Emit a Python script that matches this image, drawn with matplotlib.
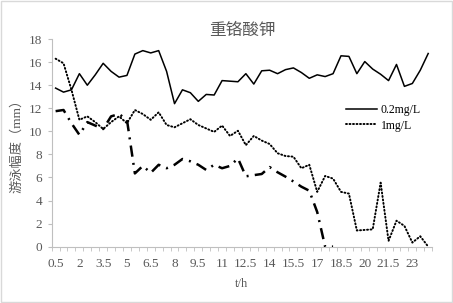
import numpy as np
import matplotlib.pyplot as plt
from matplotlib.patches import Rectangle

# Datos (eje de categorías: t en horas)
t = [0.5, 1, 1.5, 2, 2.5, 3, 3.5, 4, 4.5, 5, 5.5, 6, 6.5, 7, 7.5, 8,
     8.5, 9, 9.5, 10, 10.5, 11, 11.5, 12, 12.5, 13, 13.5, 14, 14.5, 15, 15.5, 16,
     16.5, 17, 17.5, 18, 18.5, 19, 19.5, 20, 20.5, 21, 21.5, 22, 22.5, 23, 23.5, 24]

c02 = [13.75, 13.4, 13.6, 15.0, 14.0, 14.9, 15.9, 15.2, 14.7, 14.85, 16.7, 17.0,
       16.8, 17.0, 15.2, 12.4, 13.6, 13.35, 12.6, 13.2, 13.15, 14.4, 14.35, 14.3,
       15.0, 14.1, 15.25, 15.3, 15.0, 15.35, 15.5, 15.1, 14.6, 14.9, 14.75, 15.0,
       16.55, 16.5, 15.0, 16.05, 15.4, 14.95, 14.4, 15.8, 13.9, 14.15, 15.3, 16.75]

c1 = [16.3, 15.9, 13.6, 11.0, 11.3, 10.8, 10.2, 10.8, 11.3, 10.7, 11.85, 11.5,
      11.0, 11.65, 10.55, 10.35, 10.7, 11.05, 10.55, 10.25, 9.95, 10.5, 9.6, 10.05,
      8.8, 9.6, 9.2, 8.9, 8.1, 7.86, 7.8, 6.8, 7.1, 4.75, 6.13, 5.9,
      4.75, 4.6, 1.4, 1.45, 1.5, 5.55, 0.5, 2.25, 1.8, 0.35, 0.9, 0.0]

c3 = [11.75, 11.85, 10.7, 9.7, 10.8, 10.5, 10.2, 11.3, 11.5, 11.0, 6.35, 7.0,
      6.4, 7.1, 6.8, 7.1, 7.6, 7.4, 7.1, 6.65, 7.1, 6.8, 7.0, 7.65,
      6.1, 6.2, 6.3, 6.9, 6.45, 6.07, 5.65, 5.2, 4.85, 3.0, 0.0, 0.0]

etiquetas = ['0.2mg/L', '1mg/L']

fuente = ['Liberation Serif', 'Noto Sans CJK SC']
gris = '#595959'
eje = '#bfbfbf'

fig = plt.figure(figsize=(4.53, 3.03), dpi=100)
ax = fig.add_axes([0.114, 0.186, 0.840, 0.685])
fig.patches.append(Rectangle((0.002, 0.003), 0.995, 0.993, transform=fig.transFigure,
                             fill=False, edgecolor='#d9d9d9', linewidth=1.0))

x = np.arange(len(t))
ax.plot(x, c02, color='black', linewidth=1.1, label=etiquetas[0])
ax.plot(x, c1, color='black', linewidth=1.4, linestyle=(0, (0.5, 1.3)),
        dash_capstyle='round', label=etiquetas[1])
ax.plot(x[:len(c3)], c3, color='black', linewidth=1.8,
        linestyle=(0, (4.5, 2.5, 0.8, 2.5)))

ax.set_xlim(-0.5, len(t) - 0.5)
ax.set_ylim(0, 18)
ax.set_yticks(np.arange(0, 19, 2))
ax.set_xticks(x[::3])
ax.set_xticklabels([f'{v:g}' for v in t[::3]])
ax.set_xticks(np.arange(-0.5, len(t), 1), minor=True)
ax.tick_params(axis='x', which='major', length=0, pad=8)
ax.tick_params(axis='x', which='minor', length=3, color=eje, direction='out')
ax.tick_params(axis='y', length=3, color=eje, direction='out', pad=4)
for lab in ax.get_xticklabels() + ax.get_yticklabels():
    lab.set_fontfamily(fuente)
    lab.set_fontsize(9.5)
    lab.set_color(gris)

for s in ['top', 'right']:
    ax.spines[s].set_visible(False)
for s in ['left', 'bottom']:
    ax.spines[s].set_color(eje)
    ax.spines[s].set_linewidth(0.8)

ax.set_title('重铬酸钾', family=fuente, fontsize=12, color=gris, pad=1)
ax.set_xlabel('t/h', family=fuente, fontsize=9, color=gris, labelpad=6)
ax.set_ylabel('游泳幅度（mm）', family=fuente, fontsize=9.5, color=gris, labelpad=4)

ax.legend(loc='upper left', bbox_to_anchor=(0.76, 0.71), frameon=False,
          prop={'family': fuente, 'size': 8.5}, handlelength=2.7,
          handletextpad=0.3, labelspacing=0.3, borderaxespad=0)

fig.savefig('out.png', dpi=100)
